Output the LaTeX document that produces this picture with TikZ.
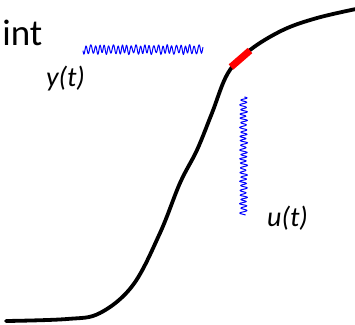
\documentclass[tikz,border=0pt]{standalone}
\usepackage{fontspec}
\setmainfont{Carlito}
\begin{document}
\begin{tikzpicture}[x=1pt,y=-1pt,
  curve/.style={line width=3.8pt,black,line cap=round},
  hilite/.style={line width=7pt,red},
  noise/.style={blue,line width=1pt},
  lbl/.style={inner sep=0pt,font=\fontsize{28}{28}\selectfont\itshape}]
\useasboundingbox (0,0) rectangle (355,324);
\node[inner sep=0pt,anchor=base east,font=\fontsize{37}{37}\selectfont] (title) at (42.5,45) {int};
\node[lbl] (ylab) at (65.5,79) {y(t)};
\node[lbl] (ulab) at (287.5,218) {u(t)};
\draw[curve] plot[smooth,tension=0.6] coordinates {(6,321) (67,319) (100,313) (133,285) (160,233) (180,183) (197,150) (212,113) (228,73) (250,50) (283,30) (317,18) (356,9)};
\coordinate (ra) at (231,67);
\coordinate (rb) at (250,50.5);
\draw[hilite] (ra) -- (rb);
\draw[noise] plot[domain=0:120,samples=400] ({83+\x},{49.5+3.8*sin(\x*80)+1.8*sin(\x*17+40)*sin(\x*80+90)+0.8*sin(\x*33)});
\draw[noise] plot[domain=0:118,samples=400] ({243.5+3*sin(\x*80)+1.3*sin(\x*17+40)*sin(\x*80+90)+0.7*sin(\x*33)},{97+\x});
\end{tikzpicture}
\end{document}
